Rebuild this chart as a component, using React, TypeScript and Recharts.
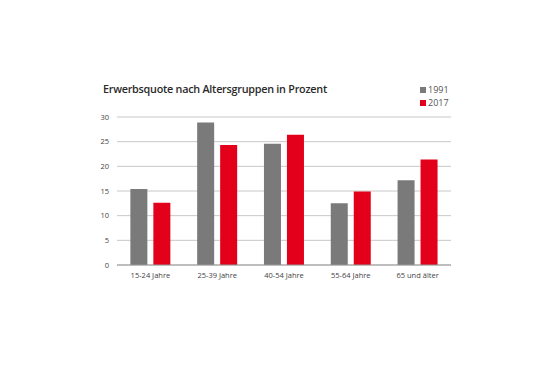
import React from 'react';
import { BarChart, Bar, XAxis, YAxis, CartesianGrid } from 'recharts';

const categories = ['15-24 Jahre', '25-39 Jahre', '40-54 Jahre', '55-64 Jahre', '65 und älter'];
const values1991 = [15.4, 28.9, 24.6, 12.5, 17.2];
const values2017 = [12.6, 24.3, 26.4, 14.9, 21.4];
const yTicks = [0, 5, 10, 15, 20, 25, 30];
const title = 'Erwerbsquote nach Altersgruppen in Prozent';
const seriesNames = ['1991', '2017'];
const seriesColors = ['#7a7a7a', '#e2001a'];

const data = categories.map((c, i) => ({ name: c, y1991: values1991[i], y2017: values2017[i] }));

const FONT = '"Open Sans", "Noto Sans", sans-serif';

export default function App() {
  return (
    <div style={{ position: 'absolute', left: 0, top: 0, width: 555, height: 392, background: '#fff' }}>
      <div style={{ position: 'absolute', left: 103, top: 81, fontFamily: FONT, fontSize: 10.8, fontWeight: 600, letterSpacing: -0.25, color: '#2a2a2a', whiteSpace: 'nowrap', lineHeight: '16px' }}>
        {title}
      </div>
      <div style={{ position: 'absolute', left: 420, top: 83, fontFamily: FONT, fontSize: 9, color: '#555', lineHeight: '13px' }}>
        {seriesNames.map((n, i) => (
          <div key={n} style={{ display: 'flex', alignItems: 'center' }}>
            <span style={{ display: 'inline-block', width: 6, height: 6, background: seriesColors[i], marginRight: 2 }} />
            <span>{n}</span>
          </div>
        ))}
      </div>
      <BarChart
        width={555}
        height={392}
        data={data}
        margin={{ top: 117, right: 104, bottom: 107, left: 0 }}
        barCategoryGap="20%"
        barGap={6}
      >
        <CartesianGrid vertical={false} stroke="#c8c8c8" strokeWidth={1} />
        <XAxis
          dataKey="name"
          axisLine={{ stroke: '#999' }}
          tickLine={false}
          tick={{ fontSize: 7.5, fill: '#444', fontFamily: FONT }}
          interval={0}
          height={20}
        />
        <YAxis
          domain={[0, 30]}
          ticks={yTicks}
          axisLine={false}
          tickLine={false}
          width={117}
          tick={{ fontSize: 7.5, fill: '#444', fontFamily: FONT }}
        />
        <Bar dataKey="y1991" name={seriesNames[0]} fill={seriesColors[0]} isAnimationActive={false} />
        <Bar dataKey="y2017" name={seriesNames[1]} fill={seriesColors[1]} isAnimationActive={false} />
      </BarChart>
    </div>
  );
}
